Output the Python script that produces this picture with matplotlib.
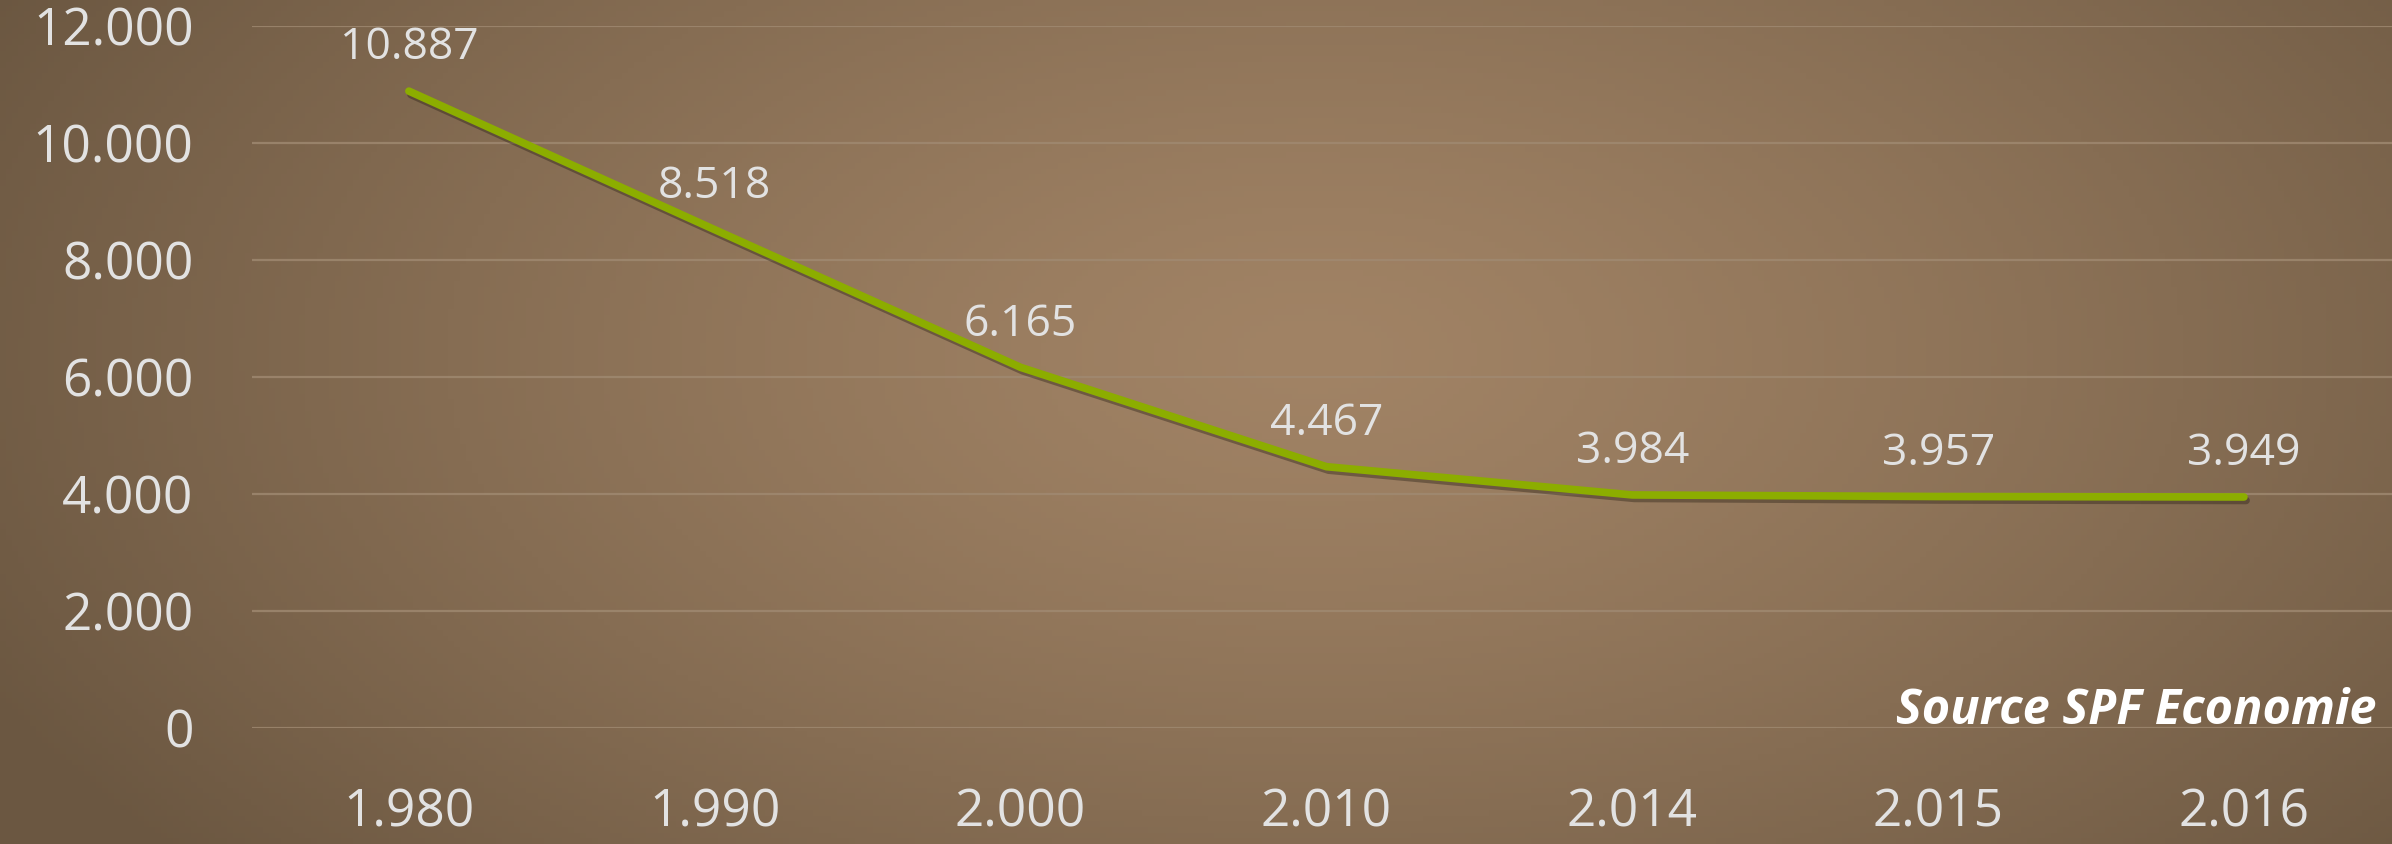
import numpy as np
import matplotlib
matplotlib.use("Agg")
import matplotlib.pyplot as plt
import matplotlib.patheffects as pe

# data
years = ["1.980", "1.990", "2.000", "2.010", "2.014", "2.015", "2.016"]
values = [10887, 8518, 6165, 4467, 3984, 3957, 3949]
value_labels = ["10.887", "8.518", "6.165", "4.467", "3.984", "3.957", "3.949"]
y_ticks = [0, 2000, 4000, 6000, 8000, 10000, 12000]
y_tick_labels = ["0", "2.000", "4.000", "6.000", "8.000", "10.000", "12.000"]

plt.rcParams['font.family'] = ['Open Sans', 'DejaVu Sans']

W, H = 2392, 844
fig = plt.figure(figsize=(W / 100, H / 100), dpi=100)

# radial brown background
xx, yy = np.meshgrid(np.linspace(0, 1, 400), np.linspace(0, 1, 150))
r = np.sqrt(((xx - 0.55) / 0.62) ** 2 + ((yy - 0.42) / 0.95) ** 2)
t = np.clip(r, 0, 1) ** 1.3
c_in = np.array([161, 131, 101]) / 255
c_out = np.array([107, 87, 65]) / 255
img = c_in[None, None, :] * (1 - t[..., None]) + c_out[None, None, :] * t[..., None]
bg = fig.add_axes([0, 0, 1, 1])
bg.imshow(img, aspect='auto', extent=[0, 1, 0, 1], origin='upper')
bg.axis('off')

ax = fig.add_axes([252 / W, 1 - 728 / H, 1 - 252 / W, (728 - 26) / H])
ax.patch.set_alpha(0)
x = np.arange(len(years))
ax.plot(x, values, color='#8cad00', lw=5.5, solid_capstyle='round', zorder=3, clip_on=False,
        path_effects=[pe.SimpleLineShadow(offset=(1.5, -2.5), alpha=0.4, shadow_color='#2a2015'),
                      pe.Normal()])
for xi, v, lab in zip(x, values, value_labels):
    ax.annotate(lab, (xi, v), xytext=(0, 31), textcoords='offset points',
                ha='center', va='center', fontsize=32, color='#e2e2e2',
                annotation_clip=False)

ax.set_xlim(-0.513, 6.484)
ax.set_ylim(0, 12000)
ax.set_yticks(y_ticks)
ax.set_yticklabels(y_tick_labels)
ax.set_xticks(x)
ax.set_xticklabels(years)
ax.grid(axis='y', color='#a08a72', lw=1.6, alpha=0.8)
ax.set_axisbelow(True)
for s in ax.spines.values():
    s.set_visible(False)
ax.tick_params(axis='both', length=0, labelsize=37, colors='#e2e2e2')
ax.tick_params(axis='y', pad=42)
ax.tick_params(axis='x', pad=43)

fig.text(2377 / W, 1 - 711 / H, "Source SPF Economie", ha='right', va='center',
         fontsize=35, fontstyle='italic', fontweight='bold', color='white')

fig.savefig("out.png", dpi=100)
